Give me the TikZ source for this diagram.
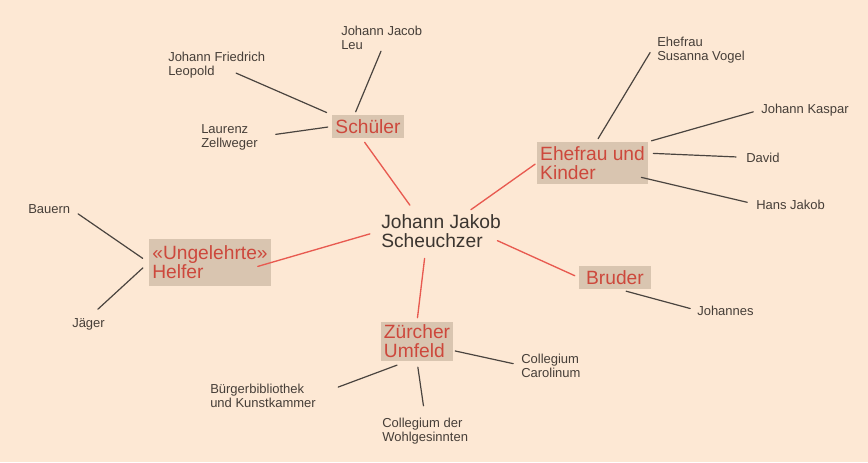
\documentclass[tikz,border=0pt]{standalone}
\usepackage{fontspec}
\setmainfont{Liberation Sans}
\definecolor{hintergrund}{HTML}{FDE8D4}
\definecolor{kasten}{HTML}{D9C5B0}
\definecolor{astrot}{HTML}{CD483C}
\definecolor{linierot}{HTML}{E85A50}
\definecolor{blattgrau}{HTML}{463E38}
\definecolor{liniegrau}{HTML}{4A443F}

\begin{document}
\begin{tikzpicture}[x=0.75pt, y=-0.75pt, line join=round, line cap=round,
	mitte/.style={anchor=base west, align=left, inner sep=0pt, text=blattgrau!85!black, font=\fontsize{14.4}{14.25}\selectfont},
	ast/.style={fill=kasten, inner sep=0pt, align=left, text=astrot, font=\fontsize{14.4}{14.25}\selectfont},
	blatt/.style={anchor=base west, align=left, inner sep=0pt, text=blattgrau, font=\fontsize{9.75}{10.5}\selectfont},
	rotlinie/.style={draw=linierot, line width=1pt},
	graulinie/.style={draw=liniegrau, line width=0.9pt}]
	% 1. Hintergrund
	\fill[hintergrund] (0,0) rectangle (868,462);
	
	% 2. Mitte und Aeste
	\node[mitte] (hub) at (381,247) {Johann Jakob\\Scheuchzer};
	\node[ast, minimum width=54pt, minimum height=17.25pt] (schueler) at (368,126.5) {Schüler};
	\node[ast, minimum width=83.25pt, minimum height=31.5pt] (ehefrau) at (592.5,163) {Ehefrau und\\Kinder};
	\node[ast, minimum width=91.5pt, minimum height=35.25pt] (helfer) at (210,262.5) {«Ungelehrte»\\Helfer};
	\node[ast, minimum width=54pt, minimum height=17.25pt] (bruder) at (615,277.5) {Bruder};
	\node[ast, minimum width=54pt, minimum height=29.25pt] (zuercher) at (417,341.5) {Zürcher\\Umfeld};
	
	% 3. Blaetter
	\node[blatt] (leu) at (341,49) {Johann Jacob\\Leu};
	\node[blatt] (leopold) at (168,75) {Johann Friedrich\\Leopold};
	\node[blatt] (zellweger) at (201,147) {Laurenz\\Zellweger};
	\node[blatt] (susanna) at (657,60) {Ehefrau\\Susanna Vogel};
	\node[blatt] (kaspar) at (761,113) {Johann Kaspar};
	\node[blatt] (david) at (746,162) {David};
	\node[blatt] (hansjakob) at (756,209) {Hans Jakob};
	\node[blatt] (bauern) at (28,213) {Bauern};
	\node[blatt] (jaeger) at (72,327) {Jäger};
	\node[blatt] (johannes) at (697,315) {Johannes};
	\node[blatt] (carolinum) at (521,377) {Collegium\\Carolinum};
	\node[blatt] (buerger) at (210,407) {Bürgerbibliothek\\und Kunstkammer};
	\node[blatt] (wohl) at (382,441) {Collegium der\\Wohlgesinnten};
	
	% 4. Rote Verbindungen
	\draw[rotlinie, shorten <=8pt, shorten >=3.75pt] (hub.146) -- (schueler.242);
	\draw[rotlinie, shorten <=5.4pt, shorten >=1.5pt] (hub.35) -- (ehefrau.west);
	\draw[rotlinie, shorten <=8.7pt, shorten >=-10.5pt] (hub.west) -- (helfer.east);
	\draw[rotlinie, shorten <=-3pt, shorten >=3.3pt] (hub.-11) -- (bruder.west);
	\draw[rotlinie, shorten <=8.3pt, shorten >=3pt] (hub.-132) -- (zuercher.north);
	
	% 5. Graue Verbindungen
	\foreach \von/\nach/\sa/\sb in {
		schueler.139/leu.south/2.4/1.5,
		schueler.north west/leopold.center/4.2/15.9,
		schueler.west/zellweger.east/3/13.5,
		ehefrau.80/susanna.169/2.7/10,
		ehefrau.north east/kaspar.west/2.5/6,
		ehefrau.10/david.west/3.75/7.5,
		ehefrau.-16/hansjakob.west/-5.3/6.75,
		helfer.west/bauern.east/5.5/7,
		helfer.west/jaeger.north/6/9.5,
		bruder.-71/johannes.west/5.5/5.3,
		zuercher.-14/carolinum.west/1.5/6,
		zuercher.-116/buerger.east/8.3/17.8,
		zuercher.south/wohl.north/4.5/8.7} {
		\draw[graulinie, shorten <=\sa pt, shorten >=\sb pt] (\von) -- (\nach);
	}
\end{tikzpicture}
\end{document}
